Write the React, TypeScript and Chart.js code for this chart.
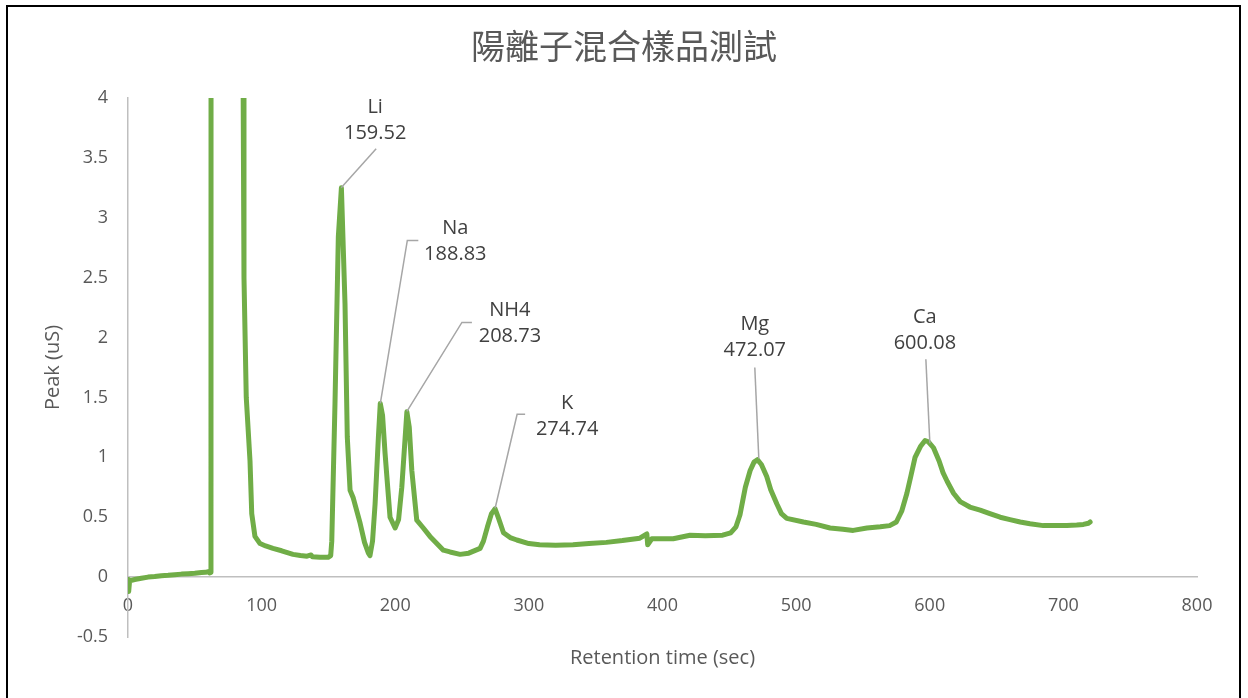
import React, { useEffect, useRef } from "react";
import { Chart, registerables } from "chart.js";

Chart.register(...registerables);

// ---------- data ----------
const chartTitle = "陽離子混合樣品測試";
const xAxisTitle = "Retention time (sec)";
const yAxisTitle = "Peak (uS)";

const xMin = 0;
const xMax = 800;
const xStep = 100;
const yMin = -0.5;
const yMax = 4;
const yStep = 0.5;

const retentionTime = [
  0, 0.5, 1.2, 5, 10, 15, 20, 25, 30, 35, 40, 45, 50, 55, 58, 60, 61, 62.1, 62.3,
  85.7, 86.2, 86.8, 88.5, 91.3, 92.6, 95, 98.8, 103, 108.5, 115, 123.5, 129, 134, 137, 138,
  143.7, 149.7, 151.7, 152.5, 154.9, 157.4, 159.7, 162.4, 164.1, 166.2, 168.6, 173.7, 177, 179.9,
  181.1, 183, 184.9, 187.4, 188.8, 190.5, 192.4, 196.1, 199.9, 202.5, 204.9, 208.7, 210.5, 212.4, 216.1, 221, 226, 236,
  241, 248.5, 255, 263.5, 266, 269, 272, 274.7, 277, 281, 286, 291, 300, 308, 320, 333, 345, 358,
  370, 383, 388.3, 388.9, 392, 408, 420.6, 432, 445, 451, 455, 458, 462, 465.6, 468.5, 471, 474, 478,
  481, 485.6, 489, 493, 505.5, 515, 525.4, 535, 542.7, 553, 563, 570, 575, 579, 582.9, 586,
  589, 593, 596.5, 599, 602.8, 607, 610, 613, 617.8, 622.8, 630, 637.7, 645, 652.7, 660,
  667.7, 675, 685, 693, 702.6, 710, 715, 718.8, 720,
];

const peakSignal = [
  -0.02, -0.12, -0.03, -0.02, -0.01, 0.0, 0.005, 0.012, 0.015, 0.02, 0.025, 0.028, 0.032, 0.038, 0.04, 0.045, 0.035, 0.04, 20,
  20, 4.0, 2.5, 1.5, 0.97, 0.53, 0.34, 0.28, 0.26, 0.24, 0.22, 0.19, 0.18, 0.175, 0.185, 0.17,
  0.165, 0.165, 0.18, 0.3, 1.45, 2.84, 3.25, 2.28, 1.17, 0.725, 0.66, 0.45, 0.29, 0.2,
  0.18, 0.3, 0.61, 1.17, 1.45, 1.35, 1.03, 0.5, 0.41, 0.48, 0.75, 1.38, 1.25, 0.89, 0.475, 0.41, 0.34, 0.225,
  0.21, 0.19, 0.2, 0.24, 0.3, 0.42, 0.53, 0.57, 0.5, 0.37, 0.33, 0.31, 0.28, 0.27, 0.265, 0.27, 0.28, 0.29,
  0.305, 0.325, 0.36, 0.27, 0.32, 0.32, 0.35, 0.345, 0.35, 0.37, 0.42, 0.52, 0.75, 0.89, 0.96, 0.98, 0.94, 0.84,
  0.73, 0.61, 0.53, 0.49, 0.46, 0.44, 0.41, 0.4, 0.39, 0.41, 0.42, 0.43, 0.46, 0.55, 0.7, 0.85,
  1.0, 1.09, 1.14, 1.13, 1.08, 0.97, 0.87, 0.8, 0.7, 0.63, 0.585, 0.56, 0.53, 0.5, 0.48,
  0.46, 0.445, 0.43, 0.43, 0.43, 0.435, 0.44, 0.45, 0.46,
];

const peakNames = ["Li", "Na", "NH4", "K", "Mg", "Ca"];
const peakTimes = [159.52, 188.83, 208.73, 274.74, 472.07, 600.08];
const peakHeights = [3.25, 1.45, 1.383, 0.575, 0.99, 1.117];

// ---------- layout (pixels) ----------
// label text centre and leader path relative to the peak pixel
const labelOffsets = [
  { tx: 34, ty: -81, path: [[35, -39]] },
  { tx: 75, ty: -175, path: [[27, -163], [38, -163]] },
  { tx: 103, ty: -101, path: [[55, -89], [65, -89]] },
  { tx: 72, ty: -105, path: [[22, -94], [30, -94]] },
  { tx: -4, ty: -134, path: [[-4, -91]] },
  { tx: -5, ty: -126, path: [[-4, -84]] },
];

const FONT = "'Open Sans', 'Noto Sans', sans-serif";
const CJK = "'Noto Sans CJK TC', 'Noto Sans CJK SC', sans-serif";
const GREEN = "#70AD47";
const AXIS = "#BFBFBF";
const TEXT = "#595959";
const LABEL = "#404040";

const CANVAS_W = 1231;
const CANVAS_H = 691;

const decorPlugin = {
  id: "decor",
  afterDatasetsDraw(chart: any) {
    const ctx = chart.ctx;
    const xs = chart.scales.x;
    const ys = chart.scales.y;
    ctx.save();
    peakNames.forEach((name, i) => {
      const px = xs.getPixelForValue(peakTimes[i]);
      const py = ys.getPixelForValue(peakHeights[i]);
      const o = labelOffsets[i];
      ctx.strokeStyle = "#A6A6A6";
      ctx.lineWidth = 1.5;
      ctx.beginPath();
      ctx.moveTo(px, py);
      o.path.forEach((p) => ctx.lineTo(px + p[0], py + p[1]));
      ctx.stroke();
      ctx.fillStyle = LABEL;
      ctx.font = `20px ${FONT}`;
      ctx.textAlign = "center";
      ctx.textBaseline = "middle";
      ctx.fillText(name, px + o.tx, py + o.ty);
      ctx.fillText(peakTimes[i].toFixed(2), px + o.tx, py + o.ty + 26);
    });
    ctx.restore();
  },
  afterDraw(chart: any) {
    const ctx = chart.ctx;
    const a = chart.chartArea;
    ctx.save();
    ctx.fillStyle = TEXT;
    ctx.textAlign = "center";
    ctx.textBaseline = "middle";
    ctx.font = `34px ${CJK}`;
    ctx.fillText(chartTitle, 616, 39);
    ctx.font = `20px ${FONT}`;
    ctx.fillText(xAxisTitle, (a.left + a.right) / 2, 651);
    ctx.translate(45, (a.top + a.bottom) / 2);
    ctx.rotate(-Math.PI / 2);
    ctx.fillText(yAxisTitle, 0, 0);
    ctx.restore();
  },
};

export default function App() {
  const ref = useRef<HTMLCanvasElement | null>(null);

  useEffect(() => {
    if (!ref.current) return;
    const points = retentionTime.map((t, i) => ({ x: t, y: peakSignal[i] }));
    const chart = new Chart(ref.current, {
      type: "line",
      data: {
        datasets: [
          {
            label: "signal",
            data: points,
            borderColor: GREEN,
            backgroundColor: GREEN,
            borderWidth: 5,
            pointRadius: 0,
            tension: 0,
            clip: 0,
            borderJoinStyle: "round",
            borderCapStyle: "round",
          } as any,
        ],
      },
      options: {
        animation: false,
        responsive: false,
        layout: { padding: { left: 60, top: 91, right: 42, bottom: 61 } },
        plugins: {
          legend: { display: false },
          title: { display: false },
          tooltip: { enabled: false },
        },
        scales: {
          x: {
            type: "linear",
            min: xMin,
            max: xMax,
            position: { y: 0 } as any,
            grid: { display: false, drawTicks: false },
            border: { display: true, color: AXIS, width: 1.5 },
            ticks: {
              stepSize: xStep,
              color: TEXT,
              font: { family: FONT, size: 18 },
              padding: 18,
              maxRotation: 0,
            },
            afterFit: (s: any) => {
              s.height = 0;
            },
          },
          y: {
            type: "linear",
            min: yMin,
            max: yMax,
            position: "left",
            grid: { display: false, drawTicks: false },
            border: { display: true, color: AXIS, width: 1.5 },
            ticks: {
              stepSize: yStep,
              color: TEXT,
              font: { family: FONT, size: 18 },
              padding: 20,
              callback: (v: any) => String(Math.round(Number(v) * 10) / 10),
            },
            afterFit: (s: any) => {
              s.width = 60;
            },
          },
        },
      },
      plugins: [decorPlugin],
    });
    return () => chart.destroy();
  }, []);

  return (
    <div
      style={{
        position: "fixed",
        left: 6,
        top: 5,
        width: 1235,
        height: 700,
        border: "2px solid #000",
        boxSizing: "border-box",
        background: "#fff",
      }}
    >
      <canvas
        ref={ref}
        width={CANVAS_W}
        height={CANVAS_H}
        style={{ display: "block", width: CANVAS_W, height: CANVAS_H }}
      />
    </div>
  );
}
